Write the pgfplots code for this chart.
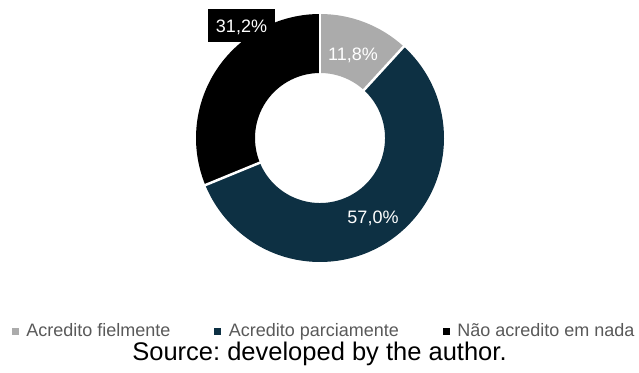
\documentclass[border=0pt]{standalone}
\usepackage{pgfplots}
\pgfplotsset{compat=1.18}
\usepackage{pgfplotstable}
\usepackage{fontspec}
\setmainfont{Liberation Sans}
\frenchspacing
\definecolor{cFiel}{HTML}{ABABAB}
\definecolor{cParc}{HTML}{0D3043}
\definecolor{cNada}{HTML}{000000}
\definecolor{legtext}{HTML}{595959}

\pgfplotstableread{
label value
fiel  11.8
parc  57.0
nada  31.2
}\shares

\begin{document}
\begin{tikzpicture}
\pgfplotstablegetelem{0}{value}\of\shares \pgfmathsetmacro{\va}{\pgfplotsretval}
\pgfplotstablegetelem{1}{value}\of\shares \pgfmathsetmacro{\vb}{\pgfplotsretval}
\pgfplotstablegetelem{2}{value}\of\shares \pgfmathsetmacro{\vc}{\pgfplotsretval}
\pgfmathsetmacro{\aA}{90}
\pgfmathsetmacro{\aB}{90-3.6*\va}
\pgfmathsetmacro{\aC}{\aB-3.6*\vb}
\pgfmathsetmacro{\aD}{\aC-3.6*\vc}
\def\cx{320}\def\cy{138}\def\R{124}\def\r{65}
\newcommand\seg[3]{%
  \fill[#3] (axis cs:{\cx+\R*cos(#1)},{\cy-\R*sin(#1)}) arc[start angle=#1, end angle=#2, radius=\R pt]
    -- (axis cs:{\cx+\r*cos(#2)},{\cy-\r*sin(#2)}) arc[start angle=#2, end angle=#1, radius=\r pt] -- cycle;}
\newcommand\sep[1]{%
  \draw[white, line width=2.5pt] (axis cs:{\cx+(\r-2)*cos(#1)},{\cy-(\r-2)*sin(#1)}) -- (axis cs:{\cx+(\R+2)*cos(#1)},{\cy-(\R+2)*sin(#1)});}
\begin{axis}[
  name=main,
  scale only axis, width=639pt, height=372pt,
  xmin=0, xmax=639, ymin=0, ymax=372, y dir=reverse,
  hide axis, clip=false,
  legend columns=3,
  legend cell align=left,
  legend image code/.code={\fill[#1] (0pt,-3pt) rectangle (6pt,3pt); \path (11pt,0pt);},
  legend style={at={(axis cs:12,331)}, anchor=west, draw=none, fill=none,
    inner sep=0pt, outer sep=0pt,
    font=\fontsize{18}{20}\selectfont, text=legtext,
    /tikz/every even column/.append style={column sep=41pt},
    nodes={inner xsep=3pt, inner ysep=0pt}},
]
\path (axis cs:0,0) rectangle (axis cs:639,372);
\seg{\aA}{\aB}{cFiel}
\seg{\aB}{\aC}{cParc}
\seg{\aC}{\aD}{cNada}
\sep{\aA}\sep{\aB}\sep{\aC}
\addlegendimage{cFiel}
\addlegendimage{cParc}
\addlegendimage{cNada}
\legend{Acredito fielmente, Acredito parciamente, Não acredito em nada}
\node[anchor=base, text=white, font=\fontsize{18}{20}\selectfont, inner sep=0pt] at (axis cs:353,60) {11,8\%};
\node[anchor=base, text=white, font=\fontsize{18}{20}\selectfont, inner sep=0pt] at (axis cs:373,223) {57,0\%};
\fill[black] (axis cs:208,9) rectangle (axis cs:275,42);
\node[anchor=base, text=white, font=\fontsize{18}{20}\selectfont, inner sep=0pt] at (axis cs:241.5,32) {31,2\%};
\node[anchor=base, text=black, font=\fontsize{25.5}{28}\selectfont, inner sep=0pt] at (axis cs:319.5,360) {Source: developed by the author.};
\end{axis}
\pgfresetboundingbox
\useasboundingbox (main.south west) rectangle (main.north east);
\end{tikzpicture}
\end{document}
